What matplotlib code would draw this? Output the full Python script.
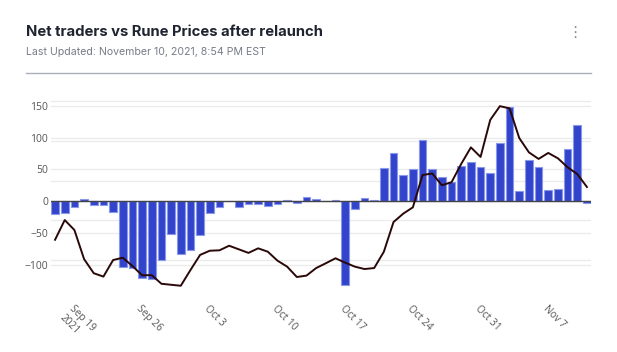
import matplotlib
matplotlib.use("Agg")
import matplotlib.pyplot as plt
import numpy as np
import pandas as pd
import matplotlib.dates as mdates

# ---- data ----
start_date = "2021-09-17"
net_traders = [-20, -19, -9, 3, -6, -6, -16, -103, -105, -120, -122, -92, -51, -82,
               -77, -53, -19, -9, 0, -9, -4, -4, -7, -4, 2, -2, 7, 4,
               0, 2, -132, -12, 5, 2, 52, 76, 42, 50, 97, 51, 38, 31,
               55, 62, 54, 45, 91, 148, 16, 65, 54, 17, 20, 82, 120, -2]
rune_price = [7.03, 8.02, 7.52, 6.06, 5.35, 5.18, 6.01, 6.13, 5.71, 5.25, 5.25, 4.82, 4.77, 4.72,
              5.51, 6.27, 6.48, 6.50, 6.73, 6.55, 6.37, 6.60, 6.43, 5.98, 5.68, 5.16, 5.23, 5.61,
              5.85, 6.10, 5.88, 5.68, 5.56, 5.61, 6.43, 7.92, 8.34, 8.66, 10.28, 10.36, 9.77, 9.92,
              10.84, 11.67, 11.19, 13.05, 13.74, 13.63, 12.14, 11.42, 11.09, 11.39, 11.12, 10.67, 10.33, 9.68]
dates = pd.date_range(start_date, periods=len(net_traders), freq="D")
tick_dates = pd.to_datetime(["2021-09-19", "2021-09-26", "2021-10-03", "2021-10-10",
                             "2021-10-17", "2021-10-24", "2021-10-31", "2021-11-07"])
tick_labels = ["Sep 19\n2021", "Sep 26", "Oct 3", "Oct 10", "Oct 17", "Oct 24", "Oct 31", "Nov 7"]
y_ticks = [150, 100, 50, 0, -50, -100]
price_grid = [6, 8, 10, 12, 14]

title = "Net traders vs Rune Prices after relaunch"
subtitle = "Last Updated: November 10, 2021, 8:54 PM EST"

W, H = 617, 352
fig = plt.figure(figsize=(W / 100, H / 100), dpi=100)
fig.patch.set_facecolor("white")

# plot area in pixels
left, right, top, bottom = 51, 591, 97, 295
ax = fig.add_axes([left / W, 1 - bottom / H, (right - left) / W, (bottom - top) / H])
ax2 = ax.twinx()

x = mdates.date2num(dates)
ax.bar(x, net_traders, width=0.8, color="#3344cc", edgecolor="#8a98ea", linewidth=0.8, zorder=3)
ax.set_xlim(x[0] - 0.42, x[-1] + 0.42)
y_lo, y_hi = -147.0, 163.7
p_lo, p_hi = 4.256, 14.20
ax.set_ylim(y_lo, y_hi)
ax.set_yticks(y_ticks)
ax.set_yticklabels([str(v).replace("-", "\u2212") for v in y_ticks])
ax.axhline(0, color="#444444", linewidth=1.0, zorder=4)
for v in y_ticks:
    if v != 0:
        ax.axhline(v, color="#ebebeb", linewidth=1.0, zorder=0)

ax2.plot(x, rune_price, color="#2a0808", linewidth=1.4, zorder=5)
ax2.set_ylim(p_lo, p_hi)
ax2.set_yticks([])
for v in price_grid:
    ax.axhline(y_lo + (v - p_lo) / (p_hi - p_lo) * (y_hi - y_lo),
               color="#ebebeb", linewidth=1.0, zorder=0)

ax.set_xticks(mdates.date2num(tick_dates))
ax.set_xticklabels(tick_labels)
for lbl in ax.get_xticklabels():
    lbl.set_rotation(-45)
    lbl.set_rotation_mode("anchor")
    lbl.set_ha("left")
    lbl.set_va("top")
    lbl.set_fontfamily("Open Sans")
    lbl.set_fontsize(7.3)
    lbl.set_color("#555555")
for lbl in ax.get_yticklabels():
    lbl.set_fontfamily("Open Sans")
    lbl.set_fontsize(7.5)
    lbl.set_color("#555555")
ax.tick_params(axis="x", length=0, pad=6)
ax.tick_params(axis="y", length=0, pad=2)
for a in (ax, ax2):
    for s in a.spines.values():
        s.set_visible(False)
    a.patch.set_alpha(0)

# header
fig.text(26 / W, 1 - 32 / H, title, fontfamily="Inter", fontweight="bold", fontsize=10.7,
         color="#1f2430", va="center", ha="left")
fig.text(26 / W, 1 - 52 / H, subtitle, fontfamily="Inter", fontsize=7.6,
         color="#767c86", va="center", ha="left")
fig.text(575 / W, 1 - 33 / H, "\u22ee", fontfamily="DejaVu Sans", fontsize=11,
         color="#8a8a8a", va="center", ha="center")
fig.add_artist(plt.Line2D([26 / W, 591 / W], [1 - 73 / H, 1 - 73 / H], color="#a8afb8", linewidth=1.0))

fig.savefig("out.png", dpi=100)
